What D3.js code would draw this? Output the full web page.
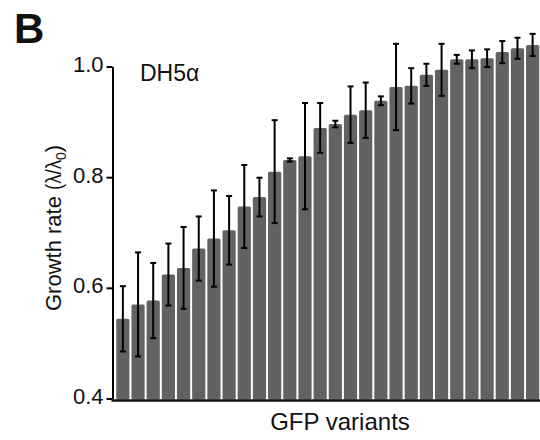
<!DOCTYPE html>
<html><head><meta charset="utf-8">
<script src="https://cdn.jsdelivr.net/npm/d3@7"></script>
<style>body{margin:0;background:#fff}svg{display:block}text{font-family:"Liberation Sans",Arial,sans-serif}</style>
</head><body>
<svg id="c" width="540" height="440"></svg>
<script>
const variants = d3.range(1, 29).map(i => "V" + i);
const growth = [0.544,0.570,0.577,0.624,0.636,0.671,0.689,0.704,0.747,0.764,0.810,0.831,0.838,0.889,0.896,0.913,0.921,0.938,0.963,0.965,0.985,0.994,1.013,1.013,1.015,1.026,1.033,1.039];
const errs = [0.059,0.094,0.068,0.056,0.074,0.058,0.087,0.062,0.075,0.035,0.093,0.003,0.096,0.045,0.006,0.051,0.050,0.008,0.078,0.032,0.020,0.047,0.008,0.016,0.016,0.020,0.019,0.020];
const yTicks = [0.4, 0.6, 0.8, 1.0];

const svg = d3.select("#c");
const x = d3.scaleBand().domain(variants).range([115.5, 540]).paddingInner(0.13).paddingOuter(0.05);
const y = d3.scaleLinear().domain([0.4, 1.0]).range([398.5, 66.5]);

// bars
svg.append("g").selectAll("rect").data(variants).join("rect")
  .attr("x", d => x(d)).attr("width", x.bandwidth())
  .attr("y", (d, i) => y(growth[i])).attr("height", (d, i) => y(0.4) + 1 - y(growth[i]))
  .attr("fill", "#626262").attr("rx", 1.5);

// error bars
const eg = svg.append("g").attr("stroke", "#000").attr("stroke-width", 2);
variants.forEach((d, i) => {
  const cx = x(d) + x.bandwidth() / 2;
  const t = y(growth[i] + errs[i]), b = y(growth[i] - errs[i]);
  eg.append("line").attr("x1", cx).attr("x2", cx).attr("y1", t).attr("y2", b);
  eg.append("line").attr("x1", cx - 3).attr("x2", cx + 3).attr("y1", t).attr("y2", t);
  eg.append("line").attr("x1", cx - 3).attr("x2", cx + 3).attr("y1", b).attr("y2", b);
});

// y axis
const ya = svg.append("g").attr("transform", "translate(112.5,0)")
  .call(d3.axisLeft(y).tickValues(yTicks).tickFormat(d3.format(".1f")).tickSize(6).tickPadding(3).tickSizeOuter(0));
ya.select(".domain").attr("stroke", "#000").attr("stroke-width", 2);
ya.selectAll(".tick line").attr("stroke", "#000").attr("stroke-width", 2);
ya.selectAll(".tick text").attr("font-size", 22).attr("fill", "#111").attr("font-family", "Liberation Sans, Arial, sans-serif").attr("dy", "0.22em");

// x axis line
svg.append("line").attr("x1", 111.5).attr("x2", 540).attr("y1", y(0.4) + 2).attr("y2", y(0.4) + 2)
  .attr("stroke", "#111").attr("stroke-width", 2.5);

// texts
svg.append("text").attr("x", 14).attr("y", 43).attr("font-size", 42).attr("font-weight", "bold").attr("fill", "#111").text("B");
svg.append("text").attr("x", 140).attr("y", 81).attr("font-size", 23).attr("fill", "#111").text("DH5α");
svg.append("text").attr("x", 340).attr("y", 430).attr("text-anchor", "middle").attr("font-size", 24).attr("fill", "#111").text("GFP variants");
const yl = svg.append("text").attr("transform", "translate(61,311) rotate(-90)").attr("text-anchor", "start")
  .attr("font-size", 22).attr("fill", "#111");
yl.append("tspan").text("Growth rate ");
yl.append("tspan").attr("textLength", 30).attr("lengthAdjust", "spacingAndGlyphs").text("(λ/λ");
yl.append("tspan").attr("font-size", 14).attr("dy", 5).text("0");
yl.append("tspan").attr("dy", -5).text(")");
</script>
</body></html>
